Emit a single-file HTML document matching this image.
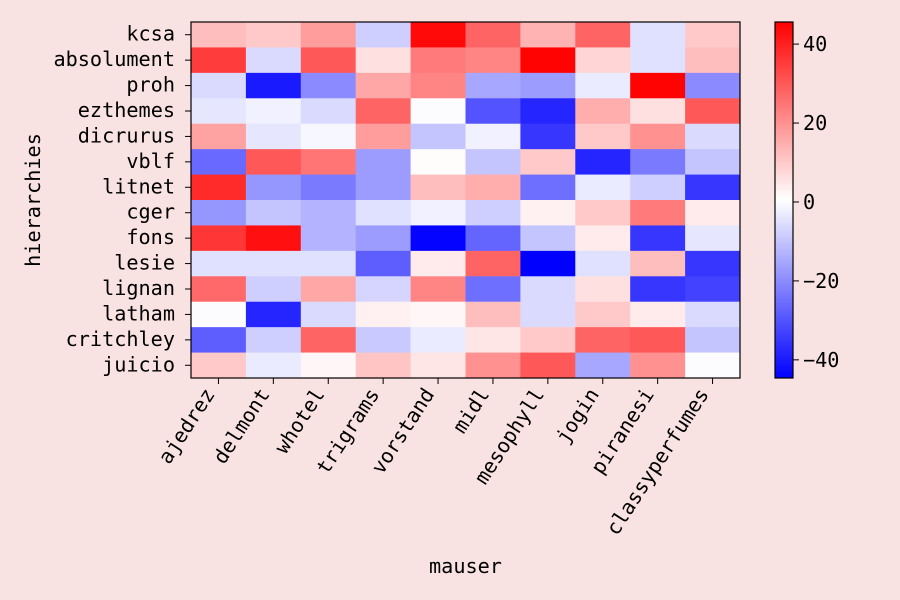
<!DOCTYPE html>
<html><head><meta charset="utf-8"><style>
body{margin:0;background:#f9e2e2;}
svg{display:block;font-family:"DejaVu Sans Mono","Liberation Mono",monospace;}
</style></head><body>
<svg id="chart" width="900" height="600"></svg>
<script>
const rows=["kcsa","absolument","proh","ezthemes","dicrurus","vblf","litnet","cger","fons","lesie","lignan","latham","critchley","juicio"];
const cols=["ajedrez","delmont","whotel","trigrams","vorstand","midl","mesophyll","jogin","piranesi","classyperfumes"];
const r0=[12,10,18,-8,44,28,14,28,-5,10];
const r1=[35,-6,30,6,24,22,45,8,-5,12];
const r2=[-6,-40,-20,16,22,-15,-17,-3,45,-20];
const r3=[-4,-2,-6,28,0,-30,-38,15,6,30];
const r4=[17,-4,-1,18,-10,-2,-35,10,20,-6];
const r5=[-26,30,25,-17,1,-10,10,-38,-23,-10];
const r6=[38,-18,-23,-17,12,15,-25,-3,-8,-35];
const r7=[-18,-10,-13,-5,-2,-8,3,10,24,4];
const r8=[36,43,-13,-17,-44,-27,-10,4,-35,-4];
const r9=[-5,-5,-5,-28,4,28,-45,-5,12,-35];
const r10=[27,-8,16,-7,22,-25,-6,6,-35,-33];
const r11=[0,-38,-6,3,2,12,-6,10,4,-6];
const r12=[-28,-8,28,-9,-3,5,10,28,30,-10];
const r13=[10,-3,2,11,5,20,30,-15,20,0];
const values=[r0,r1,r2,r3,r4,r5,r6,r7,r8,r9,r10,r11,r12,r13];
const cbTicks=[40,20,0,-20,-40];
const vmin=-44.6,vmax=45.6;

const NS="http://www.w3.org/2000/svg";
const svg=document.getElementById("chart");
function mk(t,a,p){const e=document.createElementNS(NS,t);for(const k in a)e.setAttribute(k,a[k]);(p||svg).appendChild(e);return e;}
const L=191,R=740,T=22,B=378;
const cw=(R-L)/cols.length,ch=(B-T)/rows.length;
const xs=i=>L+i*cw, ys=j=>T+j*ch;
function color(v){
  let t=(v-vmin)/(vmax-vmin); t=Math.max(0,Math.min(1,t));
  let r,g,b;
  if(t<0.5){const f=t/0.5;r=Math.round(255*f);g=r;b=255;}
  else{const f=(t-0.5)/0.5;r=255;g=Math.round(255*(1-f));b=g;}
  return `rgb(${r},${g},${b})`;
}
values.forEach((row,j)=>row.forEach((v,i)=>{
  const c=mk("rect",{x:xs(i),y:ys(j),width:cw+0.5,height:ch+0.5,fill:color(v)});
  
  
}));
const fr=mk("rect",{x:L,y:T,width:R-L,height:B-T,fill:"none",stroke:"#000","stroke-width":1.2});

rows.forEach((n,j)=>{
  const y=ys(j)+ch/2;
  mk("line",{x1:L-6,x2:L,y1:y,y2:y,stroke:"#000"});
  const t=mk("text",{x:L-16,y:y+6,"text-anchor":"end","font-size":20.2});t.textContent=n;
  
});
cols.forEach((n,i)=>{
  const x=xs(i)+cw/2;
  mk("line",{x1:x,x2:x,y1:B,y2:B+6,stroke:"#000"});
  const ax=x-3, ay=B+16;
  const t=mk("text",{x:ax,y:ay,"text-anchor":"end","font-size":20.2,transform:`rotate(-57 ${ax} ${ay})`});t.textContent=n;
  
});
const xt=mk("text",{x:(L+R)/2,y:573,"text-anchor":"middle","font-size":20.2});xt.textContent="mauser";

const yt=mk("text",{x:40,y:200,"text-anchor":"middle","font-size":20.2,transform:"rotate(-90 40 200)"});yt.textContent="hierarchies";

const cx=775,cW=18;
const defs=mk("defs",{});
const g=mk("linearGradient",{id:"cb",x1:0,y1:1,x2:0,y2:0},defs);
mk("stop",{offset:0,"stop-color":"#0000ff"},g);mk("stop",{offset:0.5,"stop-color":"#ffffff"},g);mk("stop",{offset:1,"stop-color":"#ff0000"},g);
const cb=mk("rect",{x:cx,y:T,width:cW,height:B-T,fill:"url(#cb)",stroke:"#000","stroke-width":1.2});

const cy=v=>B-(v-vmin)/(vmax-vmin)*(B-T);
cbTicks.forEach(v=>{
  const y=cy(v);
  mk("line",{x1:cx+cW,x2:cx+cW+6,y1:y,y2:y,stroke:"#000"});
  const t=mk("text",{x:cx+cW+10,y:y+7,"font-size":20.2});t.textContent=v<0?"\u2212"+(-v):String(v);
  
});
</script>
</body></html>
